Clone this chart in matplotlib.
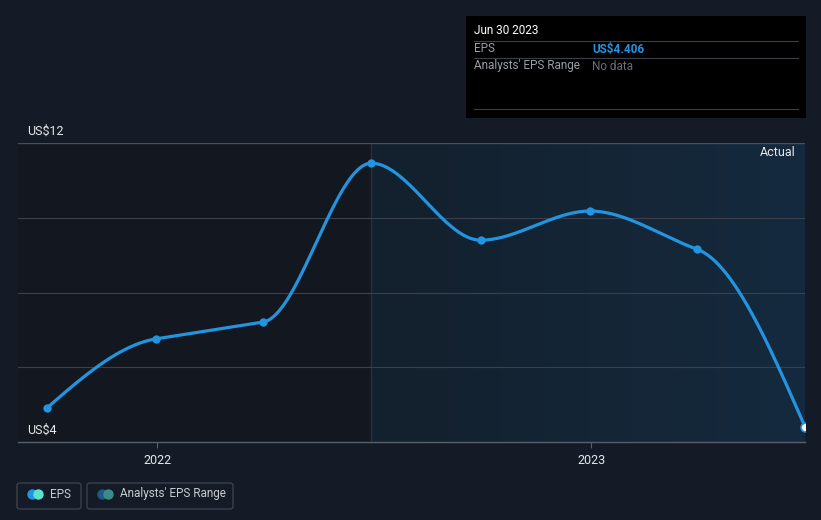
import matplotlib
matplotlib.use("Agg")
import matplotlib.pyplot as plt
import matplotlib.dates as mdates
from matplotlib.patches import FancyBboxPatch, Rectangle
from matplotlib.colors import LinearSegmentedColormap
import numpy as np
import pandas as pd

plt.rcParams["font.family"] = ["Roboto", "DejaVu Sans"]

# EPS at each quarter end (US$)
dates = pd.to_datetime(["2021-09-30", "2021-12-31", "2022-03-31", "2022-06-30",
                        "2022-09-30", "2022-12-31", "2023-03-31", "2023-06-30"])
eps = [4.91, 6.76, 7.21, 11.46, 9.40, 10.18, 9.16, 4.406]

y_ticks = [4, 6, 8, 10, 12]
x_ticks = pd.to_datetime(["2022-01-01", "2023-01-01"])
x_tick_labels = ["2022", "2023"]
forecast_start = pd.Timestamp("2022-06-30")

BG = "#151b26"
LINE = "#2394e0"


def monotone(x, y, n=40):
    # d3 curveMonotoneX style smoothing between the points
    x = np.asarray(x, float)
    y = np.asarray(y, float)
    h = np.diff(x)
    s = np.diff(y) / h
    m = np.zeros_like(y)
    for i in range(1, len(y) - 1):
        if s[i - 1] * s[i] <= 0:
            m[i] = 0
        else:
            p = (s[i - 1] * h[i] + s[i] * h[i - 1]) / (h[i - 1] + h[i])
            m[i] = np.sign(s[i - 1]) * min(abs(s[i - 1]), abs(s[i]), 0.5 * abs(p))
    m[0] = (3 * s[0] - m[1]) / 2 if len(y) > 2 else s[0]
    m[-1] = (3 * s[-1] - m[-2]) / 2 if len(y) > 2 else s[-1]
    xs, ys = [], []
    for i in range(len(h)):
        t = np.linspace(0, 1, n)
        h00 = 2 * t**3 - 3 * t**2 + 1
        h10 = t**3 - 2 * t**2 + t
        h01 = -2 * t**3 + 3 * t**2
        h11 = t**3 - t**2
        xs.append(x[i] + t * h[i])
        ys.append(h00 * y[i] + h10 * h[i] * m[i] + h01 * y[i + 1] + h11 * h[i] * m[i + 1])
    return np.concatenate(xs), np.concatenate(ys)


fig = plt.figure(figsize=(8.21, 5.2), dpi=100, facecolor=BG)
ax = fig.add_axes([18 / 821, 1 - 442 / 520, 787 / 821, 299 / 520])
ax.set_facecolor("#13171f")

xn = mdates.date2num(dates)
x0 = xn[-1] - (805 - 18) / 434 * 365.25
x1 = xn[-1]
ax.set_xlim(x0, x1)
ax.set_ylim(4, 12)

# shaded region after the split line
fx = mdates.date2num(forecast_start)
cmap = LinearSegmentedColormap.from_list("shade", ["#13202d", "#152a3e"])
ax.imshow(np.linspace(0, 1, 256).reshape(1, -1), cmap=cmap, aspect="auto",
          extent=[fx, x1, 4, 12], zorder=0)
ax.axvline(fx, color="#1f3447", lw=1, zorder=1)

for v in y_ticks[1:-1]:
    ax.axhline(v, color="#3a414c", lw=0.8, zorder=1)
ax.axhline(12, color="#4a505a", lw=1, zorder=1)

sx, sy = monotone(xn, eps)
ax.plot(sx, sy, color=LINE, lw=2.3, zorder=3, solid_capstyle="round")
ax.scatter(xn[:-1], eps[:-1], s=36, color=LINE, zorder=4, linewidths=0)
ax.scatter(xn[-1:], eps[-1:], s=40, color="white", edgecolors=LINE, linewidths=1.2,
           zorder=5, clip_on=True)

for sp in ["top", "right", "left"]:
    ax.spines[sp].set_visible(False)
ax.spines["bottom"].set_color("#5a606a")
ax.spines["bottom"].set_linewidth(1)
ax.set_yticks([])
ax.set_xticks(mdates.date2num(x_ticks))
ax.set_xticklabels(x_tick_labels, color="#e6e8eb", fontsize=9)
ax.tick_params(axis="x", colors="#5a606a", length=4, pad=5, labelcolor="#e6e8eb")

ax.text(x0 + 8, 12.15, "US$12", color="#e6e8eb", fontsize=9, va="bottom")
ax.text(x0 + 8, 4.15, "US$4", color="#e6e8eb", fontsize=9, va="bottom")
ax.text(x1 - 8, 11.75, "Actual", color="#e6e8eb", fontsize=9, ha="right", va="center")

# tooltip box (figure pixel coords)
def fx_(px):
    return px / 821


def fy_(py):
    return 1 - py / 520


fig.patches.append(Rectangle((fx_(466), fy_(118)), fx_(340), 102 / 520,
                             transform=fig.transFigure, facecolor="black", edgecolor="none"))
for py in [41, 58, 109]:
    fig.add_artist(plt.Line2D([fx_(474), fx_(798)], [fy_(py), fy_(py)],
                              transform=fig.transFigure, color="#3c3f44", lw=0.8))
fig.text(fx_(474), fy_(31), "Jun 30 2023", color="white", fontsize=8.5, va="center")
fig.text(fx_(474), fy_(49), "EPS", color="#9a9ea5", fontsize=8.5, va="center")
fig.text(fx_(592), fy_(49), "US$4.406", color=LINE, fontsize=8.5, va="center",
         fontweight="bold")
fig.text(fx_(474), fy_(66), "Analysts' EPS Range", color="#9a9ea5", fontsize=8.5, va="center")
fig.text(fx_(592), fy_(66), "No data", color="#6a6e75", fontsize=8.5, va="center")

# legend
for (l, r) in [(17, 81), (87, 233)]:
    fig.patches.append(FancyBboxPatch((fx_(l), fy_(509)), fx_(r - l), 26 / 520,
                                      boxstyle="round,pad=0,rounding_size=0.004",
                                      transform=fig.transFigure, facecolor="none",
                                      edgecolor="#3a414d", lw=1))
for cx, c1, c2, label in [(32, "#2394e0", "#5ce0d0", "EPS"),
                          (102, "#1f5a80", "#3d8a8a", "Analysts' EPS Range")]:
    fig.add_artist(plt.Line2D([fx_(cx)], [fy_(494)], marker="o", ms=7.5, color=c1,
                              transform=fig.transFigure, lw=0, mew=0))
    fig.add_artist(plt.Line2D([fx_(cx + 6)], [fy_(494)], marker="o", ms=7.5, color=c2,
                              transform=fig.transFigure, lw=0, mew=0))
    fig.text(fx_(cx + 18), fy_(494), label, color="#c8cbd0", fontsize=8.5, va="center")

fig.savefig("out.png", dpi=100, facecolor=BG)
